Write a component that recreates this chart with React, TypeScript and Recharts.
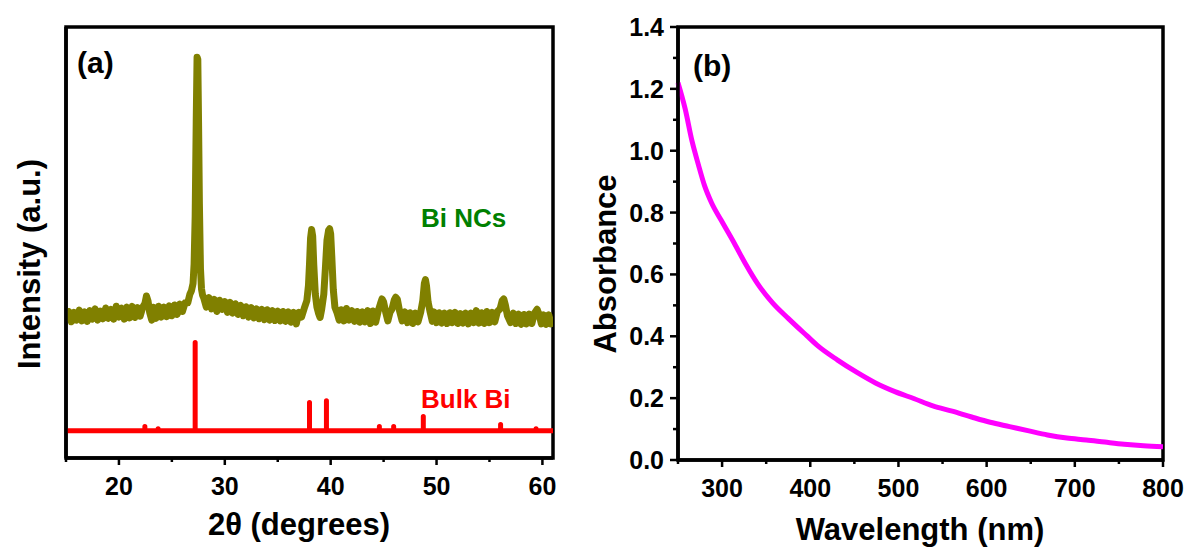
import React from "react";
import { LineChart, Line, XAxis, YAxis, ReferenceArea } from "recharts";

// (a) XRD, Bi NCs trace: [2theta, intensity a.u.]
const ncPattern: [number, number][] = [
  [15.0, 318], [15.25, 340], [15.5, 316], [15.75, 338], [16.0, 320], [16.25, 343], [16.5, 318], [16.75, 339],
  [17.0, 317], [17.25, 342], [17.5, 322], [17.75, 346], [18.0, 320], [18.25, 341], [18.5, 323], [18.75, 348],
  [19.0, 324], [19.25, 345], [19.5, 322], [19.75, 352], [20.0, 327], [20.25, 348], [20.5, 322], [20.75, 350],
  [21.0, 325], [21.25, 352], [21.5, 326], [21.75, 349], [22.0, 329], [22.25, 350], [22.45, 358], [22.6, 376],
  [22.75, 364], [22.9, 338], [23.1, 320], [23.25, 350], [23.5, 324], [23.75, 352], [24.0, 327], [24.25, 350],
  [24.5, 328], [24.75, 353], [25.0, 330], [25.25, 355], [25.5, 333], [25.75, 357], [26.0, 340], [26.25, 360],
  [26.5, 360], [26.7, 380], [26.85, 388], [27.0, 405], [27.1, 450], [27.2, 560], [27.3, 780], [27.38, 930],
  [27.45, 925], [27.52, 780], [27.6, 590], [27.7, 440], [27.8, 392], [27.9, 378], [28.0, 372], [28.25, 350],
  [28.5, 372], [28.75, 346], [29.0, 368], [29.25, 340], [29.5, 366], [29.75, 345], [30.0, 363], [30.25, 338],
  [30.5, 361], [30.75, 336], [31.0, 358], [31.25, 333], [31.5, 354], [31.75, 330], [32.0, 351], [32.25, 327],
  [32.5, 349], [32.75, 325], [33.0, 346], [33.25, 323], [33.5, 345], [33.75, 321], [34.0, 344], [34.25, 320],
  [34.5, 342], [34.75, 319], [35.0, 341], [35.25, 318], [35.5, 340], [35.75, 317], [36.0, 339], [36.25, 315],
  [36.5, 338], [36.75, 311], [37.0, 338], [37.25, 327], [37.5, 347], [37.75, 365], [37.9, 400], [38.0, 450],
  [38.1, 510], [38.2, 530], [38.3, 515], [38.4, 450], [38.55, 380], [38.7, 350], [38.85, 336], [39.0, 326],
  [39.15, 345], [39.35, 380], [39.5, 440], [39.65, 505], [39.8, 528], [39.9, 532], [40.0, 520], [40.1, 470],
  [40.25, 390], [40.4, 350], [40.6, 337], [40.8, 320], [41.0, 344], [41.25, 318], [41.5, 347], [41.75, 320],
  [42.0, 342], [42.25, 317], [42.5, 340], [42.75, 315], [43.0, 339], [43.25, 316], [43.5, 342], [43.75, 312],
  [44.0, 341], [44.25, 315], [44.5, 342], [44.7, 358], [44.85, 369], [45.0, 362], [45.2, 338], [45.4, 318],
  [45.6, 338], [45.8, 346], [46.0, 366], [46.15, 373], [46.3, 368], [46.5, 342], [46.75, 318], [47.0, 339],
  [47.25, 314], [47.5, 337], [47.75, 312], [48.0, 336], [48.25, 316], [48.5, 338], [48.7, 365], [48.85, 405],
  [48.95, 414], [49.05, 400], [49.2, 362], [49.4, 338], [49.6, 317], [49.75, 339], [50.0, 314], [50.25, 337],
  [50.5, 313], [50.75, 336], [51.0, 312], [51.25, 337], [51.5, 314], [51.75, 338], [52.0, 312], [52.25, 335],
  [52.5, 313], [52.75, 336], [53.0, 311], [53.25, 336], [53.5, 314], [53.75, 342], [54.0, 313], [54.25, 337],
  [54.5, 312], [54.75, 340], [55.0, 314], [55.25, 338], [55.5, 316], [55.75, 340], [56.0, 346], [56.2, 365],
  [56.35, 369], [56.5, 355], [56.7, 330], [57.0, 314], [57.25, 336], [57.5, 312], [57.75, 334], [58.0, 310],
  [58.25, 333], [58.5, 311], [58.75, 334], [59.0, 312], [59.25, 336], [59.5, 345], [59.7, 332], [59.9, 311],
  [60.1, 332], [60.35, 310], [60.6, 332], [60.8, 311], [61.0, 328],
];

// (a) Bulk Bi reference sticks
const bulkPos = [22.45, 23.7, 27.2, 38.0, 39.6, 44.6, 45.95, 48.75, 56.05, 59.4];
const bulkTop = [73, 68, 268, 129, 133, 73, 73, 96, 78, 68];
const bulkBase = 63;

const thetaTicks = [15, 20, 25, 30, 35, 40, 45, 50, 55, 60];

// (b) UV-vis absorbance
const wavelength = [250, 258, 266, 273, 280, 288, 299, 314, 327, 340, 357, 375, 396, 409, 431, 453,
  474, 496, 518, 539, 561, 583, 604, 626, 648, 669, 691, 713, 734, 756, 778, 800];
const absorbance = [1.22, 1.137, 1.03, 0.956, 0.888, 0.832, 0.775, 0.700, 0.632, 0.571, 0.509, 0.458,
  0.402, 0.368, 0.323, 0.283, 0.249, 0.221, 0.198, 0.175, 0.158, 0.139, 0.122, 0.108, 0.094, 0.081,
  0.071, 0.065, 0.058, 0.051, 0.046, 0.043];

const wlTicks = [250, 300, 350, 400, 450, 500, 550, 600, 650, 700, 750, 800];
const absTicks = [0, 0.1, 0.2, 0.3, 0.4, 0.5, 0.6, 0.7, 0.8, 0.9, 1.0, 1.1, 1.2, 1.3, 1.4];

const FONT = "'Liberation Sans', Arial, Helvetica, sans-serif";

const ncData = ncPattern.map(([x, y]) => ({ x, y }));
const bulkData = [
  { x: 15, y: bulkBase },
  ...bulkPos.flatMap((x, i) => [
    { x, y: bulkBase },
    { x, y: bulkTop[i] },
    { x, y: bulkBase },
  ]),
  { x: 61, y: bulkBase },
];
const uvData = wavelength.map((w, i) => ({ wl: w, a: absorbance[i] }));

function BottomTick(props: any) {
  const { x, y, payload, isMajor } = props;
  const major = isMajor(payload.value);
  return (
    <g>
      <line x1={x} x2={x} y1={y} y2={y + (major ? 7 : 4)} stroke="#000" strokeWidth={2.5} />
      {major && (
        <text x={x} y={y + 28} dy="0.36em" textAnchor="middle" fontFamily={FONT}
          fontWeight="bold" fontSize={25} fill="#000">
          {payload.value}
        </text>
      )}
    </g>
  );
}

function LeftTick(props: any) {
  const { x, y, payload } = props;
  const major = Math.round(payload.value * 10) % 2 === 0;
  return (
    <g>
      <line x1={x} x2={x - (major ? 8 : 5)} y1={y} y2={y} stroke="#000" strokeWidth={2.5} />
      {major && (
        <text x={x - 14} y={y} dy="0.36em" textAnchor="end" fontFamily={FONT}
          fontWeight="bold" fontSize={25} fill="#000">
          {payload.value.toFixed(1)}
        </text>
      )}
    </g>
  );
}

const label = (extra: React.CSSProperties): React.CSSProperties => ({
  position: "absolute",
  fontFamily: FONT,
  fontWeight: "bold",
  whiteSpace: "nowrap",
  lineHeight: 1,
  ...extra,
});

export default function App() {
  return (
    <div style={{ position: "absolute", left: 0, top: 0, width: 1188, height: 548, background: "#fff", overflow: "hidden" }}>
      <div style={{ position: "absolute", left: 0, top: 0 }}>
        <LineChart width={594} height={548} margin={{ top: 27, right: 41, bottom: 50, left: 56 }}>
          <XAxis type="number" dataKey="x" domain={[15, 61]} ticks={thetaTicks} interval={0}
            allowDataOverflow height={40} tickSize={0} tickMargin={0} tickLine={false}
            axisLine={{ stroke: "#000", strokeWidth: 3.5 }}
            tick={(p: any) => <BottomTick {...p} isMajor={(v: number) => v % 10 === 0} />} />
          <YAxis type="number" domain={[0, 1000]} width={10} tick={false} tickLine={false}
            axisLine={{ stroke: "#000", strokeWidth: 3.5 }} />
          <ReferenceArea x1={15} x2={61} y1={0} y2={1000} fill="none" stroke="#000" strokeWidth={3.5} ifOverflow="visible" />
          <Line data={bulkData} dataKey="y" type="linear" stroke="#ff0000" strokeWidth={5}
            strokeLinejoin="round" strokeLinecap="round" dot={false} isAnimationActive={false} />
          <Line data={ncData} dataKey="y" type="linear" stroke="#808000" strokeWidth={7}
            strokeLinejoin="round" dot={false} isAnimationActive={false} />
        </LineChart>
      </div>
      <div style={{ position: "absolute", left: 594, top: 0 }}>
        <LineChart width={594} height={548} data={uvData} margin={{ top: 27, right: 25, bottom: 48, left: 64 }}>
          <XAxis type="number" dataKey="wl" domain={[250, 800]} ticks={wlTicks} interval={0}
            height={40} tickSize={0} tickMargin={0} tickLine={false}
            axisLine={{ stroke: "#000", strokeWidth: 3.5 }}
            tick={(p: any) => <BottomTick {...p} isMajor={(v: number) => v % 100 === 0} />} />
          <YAxis type="number" domain={[0, 1.4]} ticks={absTicks} interval={0} width={20}
            tickSize={0} tickMargin={0} tickLine={false}
            axisLine={{ stroke: "#000", strokeWidth: 3.5 }} tick={(p: any) => <LeftTick {...p} />} />
          <ReferenceArea x1={250} x2={800} y1={0} y2={1.4} fill="none" stroke="#000" strokeWidth={3.5} ifOverflow="visible" />
          <Line dataKey="a" type="monotone" stroke="#ff00ff" strokeWidth={5} dot={false} isAnimationActive={false} />
        </LineChart>
      </div>

      <div style={label({ left: 77, top: 63, fontSize: 30, transform: "translateY(-50%)" })}>(a)</div>
      <div style={label({ left: 693, top: 66, fontSize: 30, transform: "translateY(-50%)" })}>(b)</div>
      <div style={label({ left: 421, top: 218, fontSize: 26, color: "#008000", transform: "translateY(-50%)" })}>Bi NCs</div>
      <div style={label({ left: 421, top: 399, fontSize: 26, color: "#ff0000", transform: "translateY(-50%)" })}>Bulk Bi</div>
      <div style={label({ left: 299, top: 524, fontSize: 31, transform: "translate(-50%, -50%)" })}>2θ (degrees)</div>
      <div style={label({ left: 920, top: 529, fontSize: 31, transform: "translate(-50%, -50%)" })}>Wavelength (nm)</div>
      <div style={label({ left: 29, top: 264, fontSize: 31, transform: "translate(-50%, -50%) rotate(-90deg)" })}>Intensity (a.u.)</div>
      <div style={label({ left: 605, top: 264, fontSize: 31, transform: "translate(-50%, -50%) rotate(-90deg)" })}>Absorbance</div>
    </div>
  );
}
